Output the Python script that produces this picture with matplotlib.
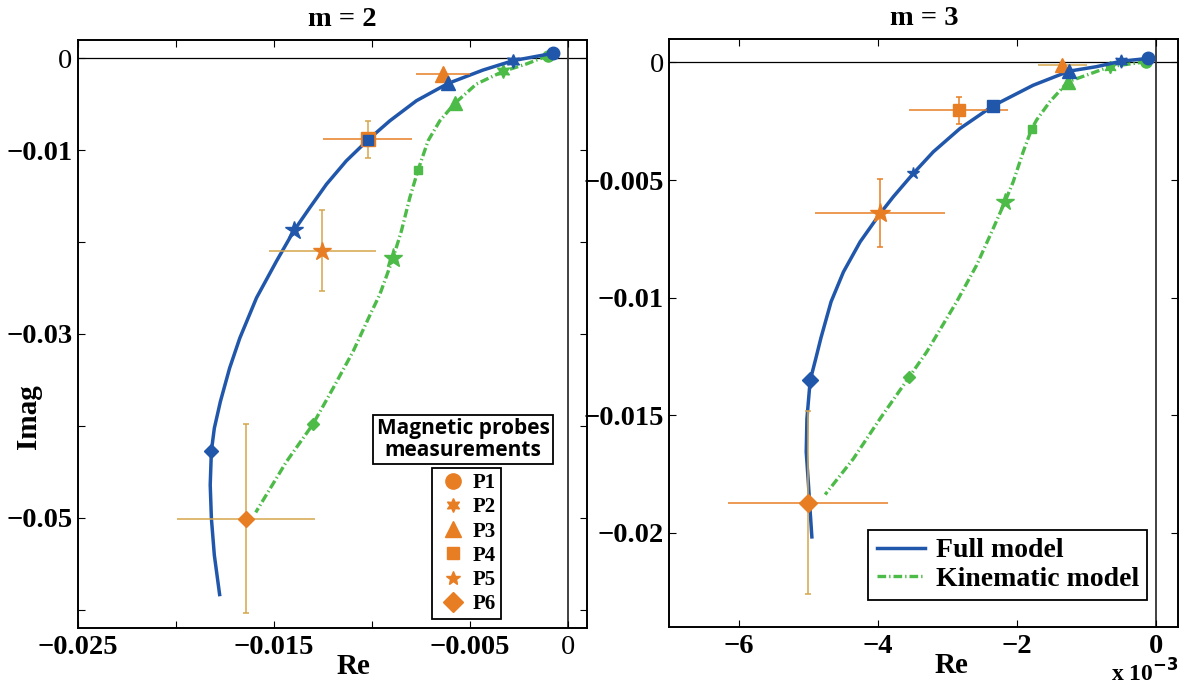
import matplotlib
matplotlib.use("Agg")
import matplotlib.pyplot as plt
from matplotlib.lines import Line2D

plt.rcParams["font.family"] = ["Liberation Serif", "DejaVu Serif"]
plt.rcParams["font.weight"] = "bold"
plt.rcParams["mathtext.default"] = "bf"

BLUE = "#2157ab"
GREEN = "#4cbb47"
ORANGE = "#e87e24"
TAN = "#d6a64c"

# ---------------- m = 2 ----------------
m2_full_re = [-0.00075, -0.00279, -0.00432, -0.00611, -0.00772, -0.00908, -0.01019,
              -0.0113, -0.01231, -0.01316, -0.01396, -0.01486, -0.01588, -0.01673,
              -0.01725, -0.01772, -0.01803, -0.01818, -0.01824, -0.01818, -0.01803,
              -0.01776]
m2_full_im = [0.00055, -0.00025, -0.00127, -0.00273, -0.00461, -0.0068, -0.00887,
              -0.01116, -0.0137, -0.01625, -0.01872, -0.02207, -0.02607, -0.03044,
              -0.03371, -0.03734, -0.04025, -0.04272, -0.04643, -0.05007, -0.05407,
              -0.05836]
m2_kin_re = [-0.0010, -0.00211, -0.0033, -0.00466, -0.00577, -0.00653, -0.00713,
             -0.00764, -0.00806, -0.00849, -0.00891, -0.00959, -0.0100, -0.01095,
             -0.01197, -0.0130, -0.01435, -0.01592]
m2_kin_im = [0.0003, -0.00061, -0.00142, -0.00279, -0.00491, -0.0068, -0.00898,
             -0.01217, -0.01516, -0.0188, -0.02171, -0.0257, -0.02752, -0.03189,
             -0.03589, -0.03982, -0.04389, -0.04942]
# model values at the probe positions P1..P6
m2_full_pts_re = [-0.00075, -0.00279, -0.00611, -0.01019, -0.01396, -0.01818]
m2_full_pts_im = [0.00055, -0.00025, -0.00273, -0.00887, -0.01872, -0.04272]
m2_kin_pts_re = [-0.0010, -0.0033, -0.00577, -0.00764, -0.00891, -0.0130]
m2_kin_pts_im = [0.0003, -0.00142, -0.00491, -0.01217, -0.02171, -0.03982]
# measurements P3..P6
m2_meas_re = [-0.00636, -0.0102, -0.01252, -0.01639]
m2_meas_im = [-0.0017, -0.0088, -0.02094, -0.0501]
m2_meas_xerr = [0.00139, 0.00227, 0.00272, 0.00352]
m2_meas_yerr = [0.0, 0.0020, 0.0044, 0.0103]

# ---------------- m = 3 ----------------
m3_full_re = [-0.000118, -0.0005, -0.000859, -0.001252, -0.001769, -0.002343, -0.002821,
              -0.003204, -0.003492, -0.003779, -0.00397, -0.004257, -0.004497,
              -0.004675, -0.00482, -0.004895, -0.004975, -0.005022, -0.005032,
              -0.004999, -0.004975, -0.004951]
m3_full_im = [0.00017, 0.000055, -0.00018, -0.00037, -0.00097, -0.00184, -0.00281,
              -0.0038, -0.00472, -0.00571, -0.00643, -0.00763, -0.00891, -0.01018,
              -0.01171, -0.0126, -0.01352, -0.01515, -0.01657, -0.01799, -0.01912,
              -0.02018]
m3_kin_re = [-0.000141, -0.000668, -0.001002, -0.001266, -0.001529, -0.00172, -0.001792,
             -0.001912, -0.002056, -0.002175, -0.002343, -0.002581, -0.002869,
             -0.003156, -0.003299, -0.003549, -0.00397, -0.004353, -0.00476]
m3_kin_im = [0.00003, -0.00018, -0.00054, -0.00082, -0.00167, -0.00245, -0.00284,
             -0.0038, -0.00508, -0.00593, -0.00706, -0.00862, -0.01018, -0.0116,
             -0.01231, -0.01337, -0.01515, -0.01685, -0.01838]
m3_full_pts_re = [-0.000118, -0.0005, -0.001252, -0.002343, -0.003492, -0.004975]
m3_full_pts_im = [0.00017, 0.000055, -0.00037, -0.00184, -0.00472, -0.01352]
m3_kin_pts_re = [-0.000141, -0.000668, -0.001266, -0.001792, -0.002175, -0.003549]
m3_kin_pts_im = [0.00003, -0.00018, -0.00082, -0.00284, -0.00593, -0.01337]
m3_meas_re = [-0.001347, -0.002838, -0.00397, -0.005008]
m3_meas_im = [-0.00009, -0.00203, -0.00641, -0.01872]
m3_meas_xerr = [0.00035, 0.00071, 0.00094, 0.00115]
m3_meas_yerr = [0.0, 0.00057, 0.00144, 0.0039]

probe_labels = ["P1", "P2", "P3", "P4", "P5", "P6"]
probe_markers = ["o", (6, 1, 0), "^", "s", "*", "D"]

fig = plt.figure(figsize=(11.86, 6.88), dpi=100)
ax1 = fig.add_axes([0.0655, 0.0872, 0.4298, 0.8547])
ax2 = fig.add_axes([0.5644, 0.0891, 0.4292, 0.8543])


def draw(ax, fre, fim, kre, kim, fpre, fpim, kpre, kpim, mre, mim, mxe, mye,
         model_ms, meas_ms, hcol, vcol):
    ax.axhline(0, color="black", lw=0.9, zorder=1)
    ax.axvline(0, color="#333333", lw=1.3, zorder=1)
    lf, = ax.plot(fre, fim, color=BLUE, lw=2.5, zorder=3, label="Full model")
    lk, = ax.plot(kre, kim, color=GREEN, lw=2.4, ls=(0, (2.6, 0.9, 0.4, 0.9)),
                  zorder=2, label="Kinematic model")
    for i in range(6):
        ax.plot(kpre[i], kpim[i], marker=probe_markers[i], color=GREEN,
                ms=model_ms[1][i], ls="none", zorder=2)
    for j in range(4):
        i = j + 2
        ax.errorbar(mre[j], mim[j], xerr=mxe[j], color=hcol[j], lw=1.1,
                    capsize=0, ls="none", zorder=4)
        if mye[j]:
            ax.errorbar(mre[j], mim[j], yerr=mye[j], color=vcol[j], lw=1.1,
                        capsize=2.5, capthick=1.1, ls="none", zorder=4)
        ax.plot(mre[j], mim[j], marker=probe_markers[i], color=ORANGE,
                ms=meas_ms[j], ls="none", zorder=5)
    for i in range(6):
        ax.plot(fpre[i], fpim[i], marker=probe_markers[i], color=BLUE,
                ms=model_ms[0][i], ls="none", zorder=6)
    ax.tick_params(direction="in", top=True, right=True, length=5, width=0.8,
                   labelsize=20.5)
    ax.tick_params(axis="x", pad=5)
    ax.tick_params(axis="y", pad=4)
    for s in ax.spines.values():
        s.set_linewidth(1.4)
    return lf, lk


draw(ax1, m2_full_re, m2_full_im, m2_kin_re, m2_kin_im, m2_full_pts_re, m2_full_pts_im,
     m2_kin_pts_re, m2_kin_pts_im, m2_meas_re, m2_meas_im, m2_meas_xerr, m2_meas_yerr,
     [[9, 10, 10.5, 7.5, 13.5, 7.5], [8, 10, 10.5, 6, 14, 6.5]], [11, 10.5, 13.5, 8],
     [ORANGE, ORANGE, TAN, TAN], [ORANGE, TAN, TAN, TAN])
lf, lk = draw(ax2, m3_full_re, m3_full_im, m3_kin_re, m3_kin_im, m3_full_pts_re,
              m3_full_pts_im, m3_kin_pts_re, m3_kin_pts_im, m3_meas_re, m3_meas_im,
              m3_meas_xerr, m3_meas_yerr,
              [[9, 9.5, 10, 8.5, 9, 7.7], [8, 9, 10, 6, 13, 6.5]], [9.5, 9, 15, 9],
              [TAN, ORANGE, ORANGE, ORANGE], [TAN, ORANGE, ORANGE, TAN])

# left axes
ax1.set_xlim(-0.025, 0.001)
ax1.set_ylim(-0.062, 0.002)
ax1.set_xticks([-0.025, -0.02, -0.015, -0.01, -0.005, 0])
ax1.set_xticklabels(["\u22120.025", "", "\u22120.015", "", "\u22120.005", "0"])
ax1.set_yticks([-0.06, -0.05, -0.04, -0.03, -0.02, -0.01, 0])
ax1.set_yticklabels(["", "\u22120.05", "", "\u22120.03", "", "\u22120.01", "0"])
ax1.get_xticklabels()[-1].set_fontweight("normal")
ax1.get_yticklabels()[-1].set_fontweight("normal")
ax1.set_title("m = 2", fontsize=20.5, fontweight="bold", pad=10, x=0.52)
ax1.set_xlabel("Re", fontsize=21, fontweight="bold", va="center")
ax1.xaxis.set_label_coords(0.542, -0.066)
ax1.set_ylabel("Imag", fontsize=21, fontweight="bold", va="center")
ax1.yaxis.set_label_coords(-0.096, 0.359)

# right axes
ax2.set_xlim(-0.007, 0.00032)
ax2.set_ylim(-0.024, 0.001)
ax2.set_xticks([-0.006, -0.004, -0.002, 0])
ax2.set_xticklabels(["\u22126", "\u22124", "\u22122", "0"])
ax2.set_yticks([-0.02, -0.015, -0.01, -0.005, 0])
ax2.set_yticklabels(["\u22120.02", "\u22120.015", "\u22120.01", "\u22120.005", "0"])
ax2.get_yticklabels()[-1].set_fontweight("normal")
ax2.set_title("m = 3", fontsize=20.5, fontweight="bold", pad=10)
ax2.set_xlabel("Re", fontsize=21, fontweight="bold", va="center")
ax2.xaxis.set_label_coords(0.555, -0.066)
fig.text(0.994, 0.002, r"x 10$^{-3}$", ha="right", va="bottom", fontsize=17,
         fontweight="bold")

# probes legend (left): entries box plus a separate title box on top
handles = [Line2D([], [], marker=m, color=ORANGE, ls="none", ms=s)
           for m, s in zip(probe_markers, [11, 10, 11, 8.5, 10, 10])]
leg1 = ax1.legend(handles, probe_labels, loc="upper center",
                  bbox_to_anchor=(0.7636, 0.2721), borderaxespad=0, fontsize=15,
                  frameon=True, fancybox=False, edgecolor="black", borderpad=0.25,
                  handlelength=1.5, handletextpad=0.2, labelspacing=0.2)
leg1.get_frame().set_linewidth(1.3)
leg1.get_frame().set_alpha(None)
ax1.text(0.7558, 0.3206, "Magnetic probes\nmeasurements", transform=ax1.transAxes,
         ha="center", va="center", fontsize=15, fontweight="bold",
         family=["Open Sans", "DejaVu Sans"], linespacing=1.1, zorder=10,
         bbox=dict(boxstyle="square,pad=0.15", fc="white", ec="black", lw=1.3))

leg2 = ax2.legend([lf, lk], ["Full model", "Kinematic model"], loc="lower right",
                  bbox_to_anchor=(0.9387, 0.0454), borderaxespad=0, fontsize=20,
                  frameon=True, fancybox=False, edgecolor="black", borderpad=0.3,
                  handlelength=1.75, handletextpad=0.37, labelspacing=0.1)
leg2.get_frame().set_linewidth(1.3)
leg2.get_frame().set_alpha(None)

fig.savefig("out.png", dpi=100)
